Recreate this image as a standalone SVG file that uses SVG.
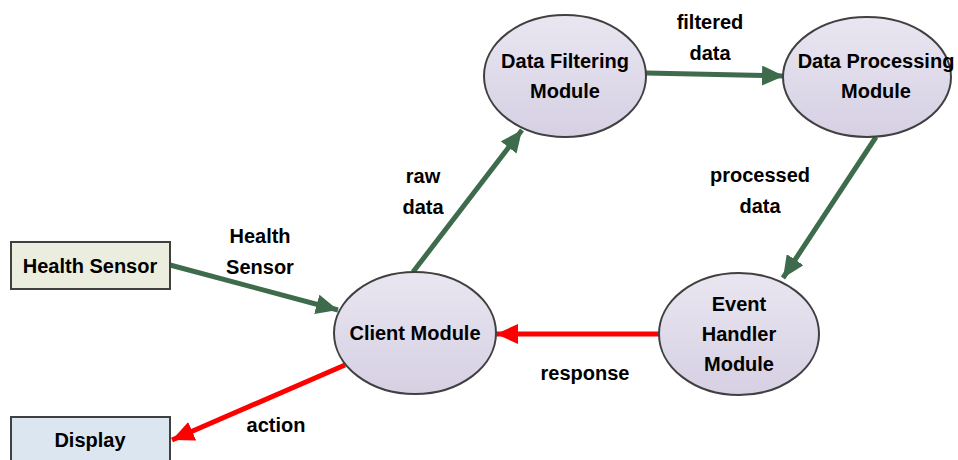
<svg xmlns="http://www.w3.org/2000/svg" width="958" height="460" viewBox="0 0 958 460">
<style>
.node{stroke:#404040;stroke-width:2}
.ell{fill:url(#eg)}
.t{font-family:"Liberation Sans",Arial,sans-serif;font-weight:bold;font-size:20px;fill:#000;text-anchor:middle}
.g{stroke:#3d6b4c;stroke-width:5;fill:none}
.r{stroke:#ff0000;stroke-width:5;fill:none}
</style>
<defs>
<linearGradient id="eg" x1="0" y1="0" x2="0" y2="1">
<stop offset="0" stop-color="#e9e6f1"/>
<stop offset="1" stop-color="#d6d0e3"/>
</linearGradient>
<marker id="ag" markerUnits="userSpaceOnUse" markerWidth="24" markerHeight="20" refX="22" refY="10" orient="auto">
<path d="M0,0 L22,10 L0,20 Z" fill="#3d6b4c"/>
</marker>
<marker id="ar" markerUnits="userSpaceOnUse" markerWidth="24" markerHeight="20" refX="22" refY="10" orient="auto">
<path d="M0,0 L22,10 L0,20 Z" fill="#ff0000"/>
</marker>
</defs>
<g id="connectors">
<line class="g" x1="170" y1="265" x2="338" y2="310" marker-end="url(#ag)"/>
<line class="g" x1="413" y1="272" x2="522" y2="130" marker-end="url(#ag)"/>
<line class="g" x1="646" y1="73" x2="784" y2="76" marker-end="url(#ag)"/>
<line class="g" x1="876" y1="137" x2="783" y2="278" marker-end="url(#ag)"/>
<line class="r" x1="659" y1="334" x2="496" y2="334" marker-end="url(#ar)"/>
<line class="r" x1="345" y1="365" x2="172" y2="440" marker-end="url(#ar)"/>
<text class="t" x="710" y="29">filtered</text>
<text class="t" x="710" y="60">data</text>
<text class="t" x="423" y="183">raw</text>
<text class="t" x="423" y="214">data</text>
<text class="t" x="260" y="243">Health</text>
<text class="t" x="260" y="274">Sensor</text>
<text class="t" x="760" y="182">processed</text>
<text class="t" x="760" y="213">data</text>
<text class="t" x="585" y="380">response</text>
<text class="t" x="276" y="432">action</text>
</g>
<g id="health-sensor">
<rect class="node" x="11" y="242" width="159" height="47" fill="#ebeedf"/>
<text class="t" x="90" y="273">Health Sensor</text>
</g>
<g id="display">
<rect class="node" x="11" y="417" width="159" height="50" fill="#dce6f1"/>
<text class="t" x="90" y="447">Display</text>
</g>
<g id="data-filtering">
<ellipse class="node ell" cx="565" cy="76" rx="81" ry="61"/>
<text class="t" x="565" y="68">Data Filtering</text>
<text class="t" x="565" y="98">Module</text>
</g>
<g id="data-processing">
<ellipse class="node ell" cx="867" cy="77" rx="84" ry="60"/>
<text class="t" x="876" y="68">Data Processing</text>
<text class="t" x="876" y="98">Module</text>
</g>
<g id="client">
<ellipse class="node ell" cx="415" cy="333" rx="81" ry="61"/>
<text class="t" x="415" y="340">Client Module</text>
</g>
<g id="event-handler">
<ellipse class="node ell" cx="739" cy="334" rx="80" ry="61"/>
<text class="t" x="739" y="311">Event</text>
<text class="t" x="739" y="341">Handler</text>
<text class="t" x="739" y="371">Module</text>
</g>
</svg>
